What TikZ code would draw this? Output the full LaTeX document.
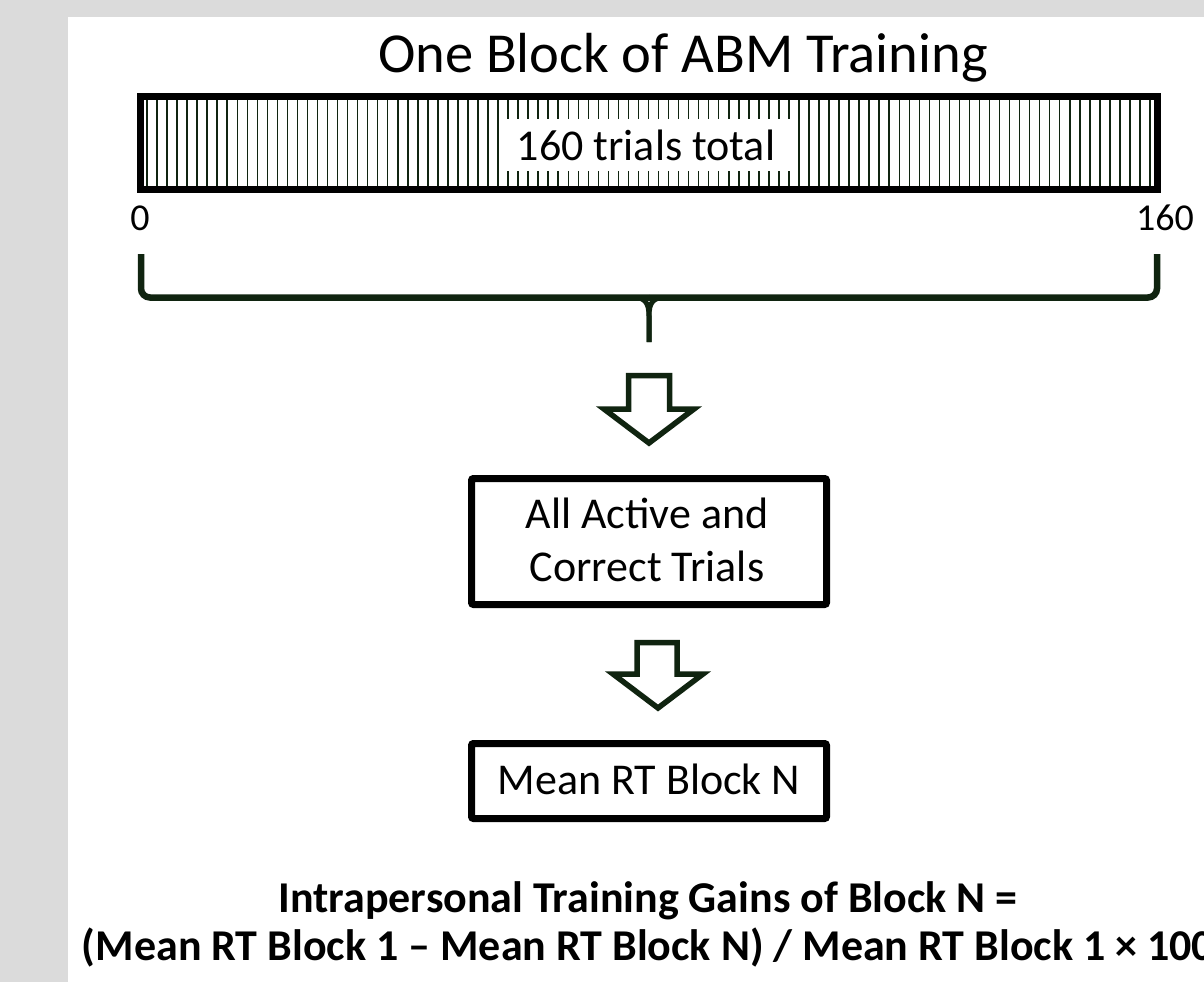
\documentclass[tikz,border=0pt]{standalone}
\usepackage{fontspec}
\setmainfont{Carlito}
\definecolor{bggray}{HTML}{DBDBDB}
\definecolor{dkgreen}{HTML}{102410}
\tikzset{
  txt/.style={inner sep=0pt, anchor=base, text=black},
  stripe/.style={draw=dkgreen, line width=1.5pt},
  boxed/.style={draw=black, line width=7pt, rounded corners=2pt, fill=white},
  bracepath/.style={draw=dkgreen, line width=6.5pt, line cap=butt},
  blockarrow/.style={draw=dkgreen, line width=5.5pt, fill=white, line join=miter},
}
\newcommand{\bigtxt}{\fontsize{44}{52}\selectfont}
\begin{document}
\begin{tikzpicture}[x=1pt,y=-1pt]
\useasboundingbox (0,0) rectangle (1204,982);
\fill[bggray] (0,0) rectangle (1204,982);
\fill[white] (68,17) rectangle (1204,982);

% title
\node[txt] (title) at (683,72) {\fontsize{56.5}{64}\selectfont One Block of ABM Training};

% bar
\foreach \i in {0,...,100} {
  \draw[stripe] ({147+\i*10.03},100) -- ({147+\i*10.03},187);
}
\draw[line width=7pt, draw=black] (140.5,96.5) rectangle (1157.5,189.5);
\node[fill=white, minimum width=288pt, minimum height=52pt, inner sep=0pt] (lab) at (646,145) {};
\node[txt] (labtxt) at (646,160) {\bigtxt 160 trials total};

% axis numbers
\node[txt] (zero) at (140,230) {\fontsize{38}{44}\selectfont 0};
\node[txt] (end) at (1165,230) {\fontsize{38}{44}\selectfont 160};

% brace
\coordinate (bl) at (141,254);
\coordinate (br) at (1157,254);
\coordinate (bm) at (649,297.5);
\coordinate (btip) at (649,342);
\draw[bracepath, rounded corners=9pt] (bl) |- (bm);
\draw[bracepath, rounded corners=9pt] (br) |- (bm);
\draw[bracepath, line width=5pt] (634,297.5) .. controls (645,297.5) and (649,303) .. (649,316) -- (btip);
\draw[bracepath, line width=5pt] (664,297.5) .. controls (653,297.5) and (649,303) .. (649,316) -- (btip);

% box 1
\node[boxed, minimum width=355pt, minimum height=126pt, inner sep=0pt] (b1) at (649,541.5) {};
\node[txt] (b1t1) at (647,528) {\bigtxt All Active and};
\node[txt] (b1t2) at (647,581) {\bigtxt Correct Trials};

% box 2
\node[boxed, minimum width=355pt, minimum height=75pt, inner sep=0pt] (b2) at (649,781) {};
\node[txt] (b2t) at (649,794) {\bigtxt Mean RT Block N};

% block arrows
\draw[blockarrow] (628.5,375.5) -- (669.5,375.5) -- (669.5,409) -- (694,409) -- (649,443) -- (604,409) -- (628.5,409) -- cycle;
\draw[blockarrow] (637,642.5) -- (677,642.5) -- (677,674) -- (703,674) -- (658,708) -- (613,674) -- (637,674) -- cycle;

% formula
\node[txt] (f1) at (648,912) {\bigtxt\bfseries Intrapersonal Training Gains of Block N =};
\node[txt] (f2) at (648,960) {\bigtxt\bfseries (Mean RT Block 1 – Mean RT Block N) / Mean RT Block 1 × 100};
\end{tikzpicture}
\end{document}
